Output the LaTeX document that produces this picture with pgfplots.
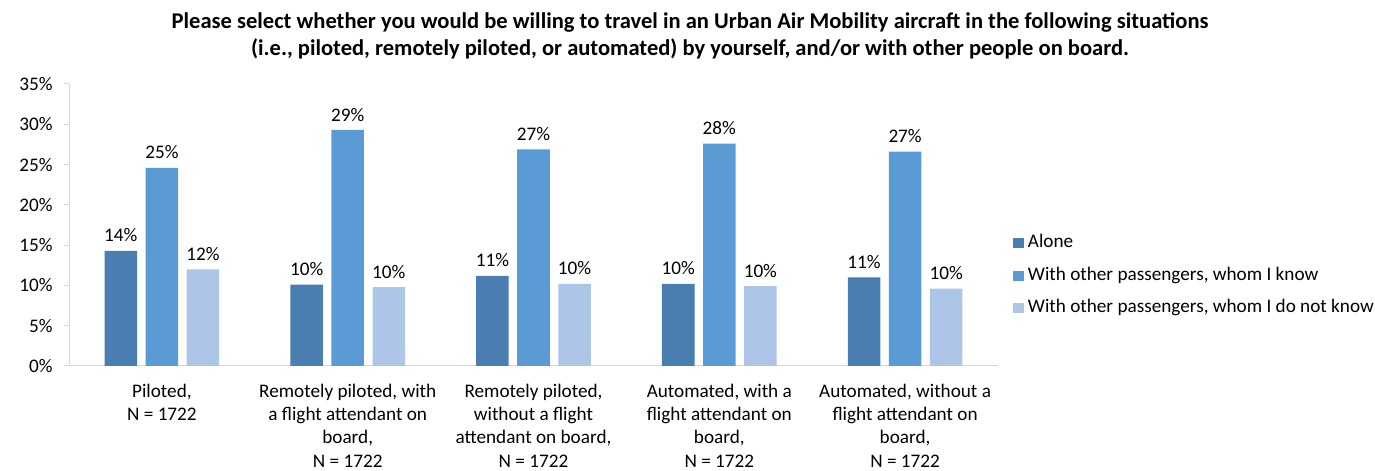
\documentclass[border=0pt]{standalone}
\usepackage{pgfplots}
\pgfplotsset{compat=1.18}
\usepackage{pgfplotstable}
\usepackage{fontspec}
\setmainfont{Carlito}
\definecolor{cA}{RGB}{74,126,177}
\definecolor{cB}{RGB}{91,155,213}
\definecolor{cC}{RGB}{173,197,230}
\definecolor{axgray}{RGB}{217,217,217}
\pgfplotstableread{
x a b c
0 14.3 24.6 12.0
1 10.1 29.3 9.8
2 11.2 26.9 10.2
3 10.2 27.6 9.9
4 11.0 26.6 9.6
}\data
\begin{document}
\begin{tikzpicture}
\useasboundingbox (0,0) rectangle (1031.25pt,353.25pt);
\node[font=\fontsize{16.9}{20.25}\selectfont\bfseries, align=center] at (517.5pt,326.4pt)
{Please select whether you would be willing to travel in an Urban Air Mobility aircraft in the following situations\\
(i.e., piloted, remotely piloted, or automated) by yourself, and/or with other people on board.};
\begin{axis}[
  at={(51.75pt,78.75pt)}, anchor=south west,
  scale only axis, width=696.75pt, height=211.5pt,
  ymin=0, ymax=35, ytick={0,5,...,35},
  xmin=-0.5, xmax=4.5, xtick=data,
  xticklabels={{Piloted,\\N = 1722},
    {Remotely piloted, with\\a flight attendant on\\board,\\N = 1722},
    {Remotely piloted,\\without a flight\\attendant on board,\\N = 1722},
    {Automated, with a\\flight attendant on\\board,\\N = 1722},
    {Automated, without a\\flight attendant on\\board,\\N = 1722}},
  xticklabel style={align=center, font=\fontsize{14.4}{17.5}\selectfont, yshift=-6pt},
  yticklabel={\pgfmathprintnumber{\tick}\%},
  yticklabel style={font=\fontsize{14.4}{17}\selectfont, xshift=-5pt},
  /pgf/number format/assume math mode=true,
  axis x line*=bottom, axis y line*=left,
  axis line style={axgray, line width=0.75pt},
  xtick style={draw=none},
  ytick style={axgray, line width=0.75pt},
  tick align=outside, major tick length=3.75pt,
  ybar=6.4pt, bar width=24.4pt,
  nodes near coords={\pgfmathprintnumber[fixed,precision=0]{\pgfplotspointmeta}\%},
  every node near coord/.append style={font=\fontsize{14.4}{17}\selectfont, yshift=3pt, black},
  legend style={at={(1.012,0.32)}, anchor=west, draw=none, fill=none,
    font=\fontsize{14.4}{17}\selectfont, row sep=9.4pt,
    nodes={inner sep=1pt, text height=10pt, text depth=3pt},
    /tikz/every odd column/.append style={column sep=2pt}},
  legend cell align=left,
  legend image code/.code={\fill[#1,draw=none] (0pt,-3.9pt) rectangle (7.9pt,3.9pt);},
]
\addplot[fill=cA, draw=none] table[x=x, y=a] {\data};
\addplot[fill=cB, draw=none] table[x=x, y=b] {\data};
\addplot[fill=cC, draw=none] table[x=x, y=c] {\data};
\legend{Alone, {With other passengers, whom I know}, {With other passengers, whom I do not know}}
\end{axis}
\end{tikzpicture}
\end{document}
